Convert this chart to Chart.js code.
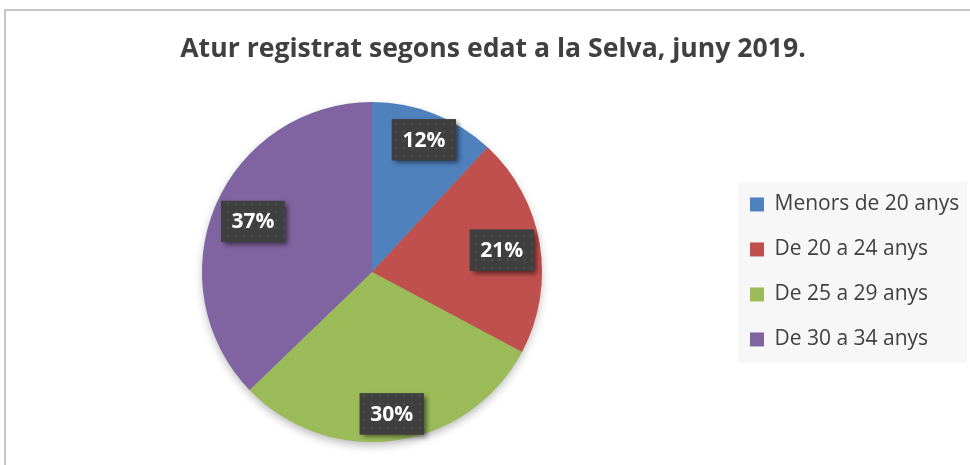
<!DOCTYPE html>
<html>
<head>
<meta charset="utf-8">
<script src="https://cdn.jsdelivr.net/npm/chart.js@4.4.1/dist/chart.umd.min.js"></script>
<style>
  html, body { margin: 0; padding: 0; background: #fff; overflow: hidden; }
  #frame { position: absolute; left: 4px; top: 9px; width: 990px; height: 500px; border: 2px solid #c6c6c6; }
  #wrap { position: absolute; left: 0; top: 0; width: 970px; height: 465px; }
</style>
</head>
<body>
<div id="frame"></div>
<div id="wrap"><canvas id="pie-chart" width="970" height="465"></canvas></div>
<script>

// DATA
const chartTitle = 'Atur registrat segons edat a la Selva, juny 2019.';
const categories = ['Menors de 20 anys', 'De 20 a 24 anys', 'De 25 a 29 anys', 'De 30 a 34 anys'];
const shares = [11.9, 20.9, 30.0, 37.2];   // % of registered unemployed

Chart.defaults.font.family = "'Open Sans'";

// soft shadow under the whole pie
const pieShadow = {
  id: 'pieShadow',
  beforeDatasetsDraw(chart) {
    const arc = chart.getDatasetMeta(0).data[0];
    if (!arc) return;
    const ctx = chart.ctx;
    ctx.save();
    ctx.shadowColor = 'rgba(0,0,0,0.3)';
    ctx.shadowBlur = 10;
    ctx.shadowOffsetY = 4;
    ctx.beginPath();
    ctx.arc(arc.x, arc.y, arc.outerRadius - 1, 0, Math.PI * 2);
    ctx.fillStyle = '#999';
    ctx.fill();
    ctx.restore();
  }
};

// light grey panel behind the legend
const legendPanel = {
  id: 'legendPanel',
  beforeDraw(chart) {
    const legend = chart.legend;
    const hb = legend.legendHitBoxes;
    if (!hb || !hb.length) return;
    const last = hb[hb.length - 1];
    const ctx = chart.ctx;
    ctx.save();
    ctx.fillStyle = '#f7f7f7';
    ctx.fillRect(hb[0].left - 12, hb[0].top - 12,
      legend.right - 1 - (hb[0].left - 12), last.top + last.height + 13 - (hb[0].top - 12));
    ctx.restore();
  }
};

// dark dotted pattern for the percent labels
function makePattern(ctx) {
  const c = document.createElement('canvas');
  c.width = 8; c.height = 8;
  const p = c.getContext('2d');
  p.fillStyle = '#3f3f3f';
  p.fillRect(0, 0, 8, 8);
  p.fillStyle = '#4a4a4a';
  p.beginPath();
  p.arc(4, 4, 1.6, 0, Math.PI * 2);
  p.fill();
  return ctx.createPattern(c, 'repeat');
}

// percent labels, inside end of each slice
const percentLabels = {
  id: 'percentLabels',
  afterDatasetsDraw(chart) {
    const ctx = chart.ctx;
    const meta = chart.getDatasetMeta(0);
    const values = chart.data.datasets[0].data;
    const total = values.reduce((a, b) => a + b, 0);
    const pattern = makePattern(ctx);
    ctx.save();
    ctx.font = "bold 21px 'Open Sans'";
    meta.data.forEach((arc, i) => {
      const {x, y, startAngle, endAngle, outerRadius} =
        arc.getProps(['x', 'y', 'startAngle', 'endAngle', 'outerRadius'], true);
      const text = Math.round(values[i] / total * 100) + '%';
      const w = 64;
      const h = 41;
      const mid = (startAngle + endAngle) / 2;
      const cx = Math.cos(mid), cy = Math.sin(mid);
      const t = Math.min(Math.abs(cx) > 1e-6 ? (w / 2) / Math.abs(cx) : Infinity,
                         Math.abs(cy) > 1e-6 ? (h / 2) / Math.abs(cy) : Infinity);
      const d = outerRadius - 6 - t;
      const px = x + cx * d, py = y + cy * d;

      ctx.shadowColor = 'rgba(0,0,0,0.55)';
      ctx.shadowBlur = 5;
      ctx.shadowOffsetX = 3;
      ctx.shadowOffsetY = 3;
      ctx.fillStyle = '#3f3f3f';
      ctx.fillRect(px - w / 2, py - h / 2, w, h);
      ctx.shadowColor = 'transparent';
      ctx.fillStyle = pattern;
      ctx.fillRect(px - w / 2, py - h / 2, w, h);

      ctx.fillStyle = '#ffffff';
      ctx.textAlign = 'center';
      ctx.textBaseline = 'middle';
      ctx.fillText(text, px, py + 1);
    });
    ctx.restore();
  }
};

const data = {
  labels: categories,
  datasets: [{
    data: shares,
    backgroundColor: ['#4f81bd', '#c0504d', '#9bbb59', '#8064a2'],
    borderWidth: 0,
    hoverOffset: 0,
    offset: 0
  }]
};

const config = {
  type: 'pie',
  data,
  options: {
    responsive: false,
    animation: false,
    devicePixelRatio: 1,
    layout: {
      padding: { left: 18, right: 2, top: 0, bottom: 23 }
    },
    plugins: {
      title: {
        display: true,
        text: chartTitle,
        color: '#404040',
        font: { size: 26.6, weight: 'bold' },
        padding: { top: 33, bottom: 37 }
      },
      legend: {
        position: 'right',
        fullSize: false,
        maxWidth: 242,
        labels: {
          boxWidth: 14,
          boxHeight: 14,
          padding: 24,
          color: '#404040',
          font: { size: 21 }
        }
      },
      tooltip: { enabled: false }
    }
  },
  plugins: [pieShadow, legendPanel, percentLabels]
};

const pieChart = new Chart(document.getElementById('pie-chart'), config);
</script>
</body>
</html>
